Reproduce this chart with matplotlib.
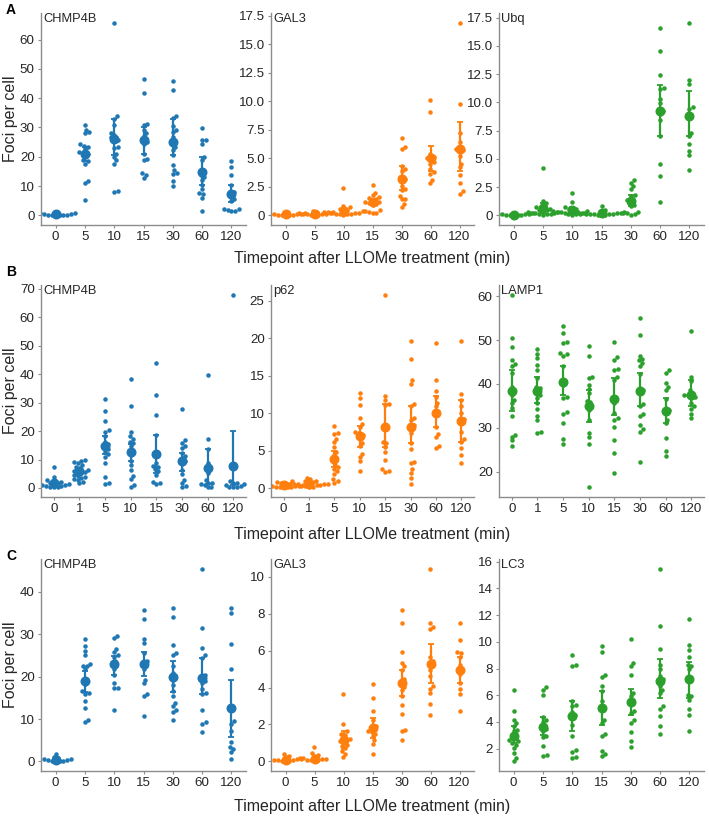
"""
Foci per cell after LLOMe treatment: swarm plots with mean and error bars,
three experiments (A, B, C), three markers each.
"""
import numpy as np
import matplotlib
matplotlib.use("Agg")
import matplotlib.pyplot as plt
from matplotlib.ticker import MultipleLocator, FuncFormatter

plt.rcParams["font.family"] = ["Liberation Sans", "DejaVu Sans"]

# ---------------------------------------------------------------- data
times_7 = ["0", "5", "10", "15", "30", "60", "120"]
times_8 = ["0", "1", "5", "10", "15", "30", "60", "120"]

# Row A
a_chmp4b_vals = [
    [0.0, 0.0, 0.1, 0.0, 0.2, 0.3, 0.5, 0.7, 0.9, 0.1],
    [31, 29.3, 28.3, 28, 24.3, 23.8, 23.4, 22.5, 21.7, 21, 20.9, 20, 18.9, 18.5, 17.7, 11.9, 11.1, 5.4],
    [65.8, 33.9, 32.9, 30.9, 28.2, 27.4, 26.6, 25.9, 25.7, 23.4, 23, 21.1, 20, 18.9, 17.7, 8.3, 8],
    [46.7, 41.9, 31.1, 30.9, 29.1, 28, 27.1, 25.7, 25.1, 24.3, 21.1, 19.4, 18.9, 14.3, 13.7, 12.6],
    [45.8, 42.9, 33.9, 33.1, 30.5, 29.1, 28.5, 26.9, 25.1, 23.4, 22.3, 20.6, 17.1, 15.4, 14.3, 14.1, 11.8, 9.9],
    [29.9, 25.9, 25.7, 24.3, 20, 18.9, 13.7, 13.1, 12, 10.3, 8.9, 7.7, 7.2, 5.9, 1.6],
    [18.5, 16.5, 13.7, 10.5, 8.0, 7.2, 5.7, 4.8, 2.3, 2.0, 1.6, 1.4, 2.2],
]
a_chmp4b_mean = [0.3, 21.1, 26.0, 25.7, 25.1, 14.9, 7.4]
a_chmp4b_lo = [0.1, 18.5, 20.6, 20.9, 20.5, 10.3, 4.5]
a_chmp4b_hi = [0.5, 23.5, 32.8, 30.3, 33.0, 19.8, 10.5]

a_gal3_vals = [
    [0.0, 0.05, 0.1, 0.0, 0.15, 0.1, 0.2, 0.05, 0.3, 0.0, 0.1],
    [0.1, 0.2, 0.3, 0.1, 0.0, 0.05, 0.2, 0.1, 0.3, 0.15, 0.0, 0.35],
    [2.4, 0.8, 0.7, 0.6, 0.5, 0.4, 0.35, 0.3, 0.25, 0.2, 0.2, 0.15, 0.1, 0.1, 0.05, 0.3, 0.1],
    [2.7, 2.0, 1.75, 1.6, 1.5, 1.4, 1.3, 1.2, 1.15, 1.1, 1.0, 0.9, 0.45, 0.35, 0.3, 0.25, 0.2],
    [6.8, 6.0, 5.8, 4.3, 4.1, 3.9, 3.4, 3.2, 3.1, 2.6, 2.3, 2.2, 1.7, 1.45, 1.4, 1.0, 0.75],
    [10.1, 9.1, 5.4, 5.1, 5.0, 4.9, 4.7, 4.5, 4.1, 3.8, 3.6, 3.1, 2.8],
    [16.9, 9.8, 7.2, 6.4, 5.8, 5.7, 5.6, 5.2, 4.5, 4.2, 3.5, 2.8, 2.1, 1.9],
]
a_gal3_mean = [0.1, 0.15, 0.4, 1.2, 3.2, 5.0, 5.8]
a_gal3_lo = [0.05, 0.1, 0.2, 1.0, 2.2, 3.9, 3.9]
a_gal3_hi = [0.15, 0.2, 0.65, 1.45, 4.3, 6.1, 8.2]

a_ubq_vals = [
    [0.0, 0.05, 0.1, 0.0, 0.1, 0.2, 0.05, 0.1, 0.0, 0.15],
    [4.2, 1.3, 1.1, 0.9, 0.7, 0.6, 0.5, 0.4, 0.3, 0.2, 0.1, 0.05, 0.3, 0.15, 0.25, 0.1, 0.45, 0.2],
    [2.0, 1.2, 0.7, 0.6, 0.55, 0.35, 0.3, 0.2, 0.05, 0.1, 0.4, 0.25, 0.3, 0.15, 0.1, 0.35],
    [0.8, 0.5, 0.35, 0.3, 0.2, 0.15, 0.05, 0.1, 0.25, 0.1, 0.05, 0.2, 0.15, 0.3, 0.1, 0.0],
    [3.1, 2.9, 2.6, 2.3, 1.8, 1.7, 1.4, 1.25, 1.1, 0.95, 0.8, 0.3, 0.2, 0.15, 0.05, 0.25],
    [16.6, 14.5, 12.4, 11.3, 11.2, 10.3, 9.9, 9.2, 9.0, 8.4, 7.0, 4.5, 3.5, 1.2],
    [17.05, 12.0, 11.6, 9.6, 9.4, 8.8, 7.3, 7.0, 6.3, 5.7, 5.3, 4.0],
]
a_ubq_mean = [0.07, 0.65, 0.5, 0.25, 1.25, 9.2, 8.8]
a_ubq_lo = [0.03, 0.2, 0.3, 0.15, 0.8, 7.0, 7.0]
a_ubq_hi = [0.1, 1.1, 0.75, 0.4, 1.8, 11.5, 11.0]

# Row B
b_chmp4b_vals = [
    [7.5, 4.0, 2.8, 2.2, 1.9, 1.6, 1.4, 1.1, 0.7, 0.5, 0.2, 1.3, 0.9, 1.8, 0.4, 0.6],
    [9.9, 9.5, 8.7, 8.1, 7.5, 6.9, 6.3, 5.8, 5.2, 4.6, 4.0, 3.4, 2.8, 2.2, 1.6, 5.5, 6.0, 4.3, 3.0, 9.0],
    [31.4, 27.1, 23.6, 20.4, 19.8, 18.1, 16.3, 15.4, 14.6, 13.6, 12.8, 12.0, 11.0, 8.7, 3.8, 1.6, 1.3],
    [38.3, 28.7, 19.8, 18.1, 17.1, 16.3, 15.7, 14.6, 12.6, 11.6, 9.6, 8.1, 6.3, 4.3, 3.1, 1.1, 0.5],
    [43.9, 32.8, 25.7, 18.7, 11.9, 8.7, 7.8, 7.3, 6.6, 5.8, 4.6, 2.0, 1.6, 1.3],
    [27.7, 16.7, 15.7, 14.6, 14.0, 12.2, 11.3, 10.5, 9.3, 8.3, 6.3, 4.9, 2.8, 1.6, 0.7, 0.2],
    [39.8, 17.3, 13.6, 8.7, 6.9, 5.4, 2.8, 1.9, 1.6, 1.3, 1.1, 0.5, 0.2],
    [68.0, 2.4, 1.9, 1.6, 1.3, 1.1, 0.7, 0.5, 0.3, 0.2],
]
b_chmp4b_mean = [1.6, 5.8, 14.6, 12.6, 11.9, 9.3, 6.9, 7.8]
b_chmp4b_lo = [1.0, 4.6, 12.0, 9.3, 5.4, 6.1, 1.5, 1.0]
b_chmp4b_hi = [2.4, 7.0, 18.3, 15.4, 18.7, 12.4, 13.8, 20.1]

b_p62_vals = [
    [0.9, 0.8, 0.7, 0.6, 0.5, 0.4, 0.35, 0.3, 0.25, 0.2, 0.15, 0.1, 0.4, 0.3, 0.6, 0.2, 0.5, 0.1],
    [1.4, 1.2, 1.0, 0.9, 0.8, 0.7, 0.6, 0.55, 0.5, 0.45, 0.4, 0.3, 0.2, 0.15, 0.6, 0.5, 0.3],
    [8.3, 7.4, 7.2, 6.6, 6.1, 5.5, 4.8, 4.4, 4.0, 3.6, 3.1, 2.8, 2.6, 2.3, 1.9, 1.2, 0.9, 0.7],
    [12.7, 12.0, 11.1, 9.4, 8.6, 8.2, 7.5, 7.4, 7.1, 6.9, 6.0, 5.6, 4.6, 4.2, 3.6, 2.3],
    [25.8, 12.3, 11.7, 11.2, 11.1, 8.2, 6.2, 6.0, 5.5, 4.8, 3.7, 2.5, 2.3, 2.2],
    [19.6, 17.2, 14.4, 13.9, 11.2, 10.9, 9.3, 9.1, 8.4, 8.2, 7.4, 6.0, 5.2, 3.5, 3.3, 2.5, 2.0, 1.3, 0.6],
    [19.3, 14.4, 12.9, 12.2, 11.4, 10.9, 10.0, 8.2, 7.2, 6.8, 5.6, 5.3],
    [19.6, 12.6, 11.8, 10.9, 10.0, 9.2, 8.9, 7.5, 6.5, 6.2, 5.3, 4.4, 3.4],
]
b_p62_mean = [0.4, 0.5, 3.9, 6.9, 8.2, 8.2, 10.0, 8.9]
b_p62_lo = [0.3, 0.35, 2.8, 5.5, 5.5, 6.0, 8.2, 6.2]
b_p62_hi = [0.55, 0.7, 4.9, 8.3, 11.2, 10.9, 12.3, 11.7]

b_lamp1_vals = [
    [60.4, 50.5, 48.4, 45.5, 44.6, 44.2, 42.6, 39.4, 38.3, 37.5, 36.4, 35.6, 34.5, 32.7, 28.4, 28.0, 27.1, 25.9],
    [48.0, 46.9, 45.9, 44.4, 43.1, 41.3, 39.4, 39.0, 38.3, 37.5, 36.8, 35.6, 34.3, 32.8, 31.8, 29.1, 28.9],
    [53.3, 51.6, 49.5, 49.3, 47.0, 46.8, 46.4, 44.0, 40.6, 39.8, 37.1, 36.8, 33.5, 33.2, 31.2, 27.5, 26.3],
    [48.6, 46.3, 41.7, 41.3, 39.8, 38.8, 37.9, 36.2, 35.8, 35.0, 34.1, 31.7, 28.8, 27.8, 26.2, 16.4],
    [49.7, 46.1, 45.4, 43.4, 43.1, 41.6, 41.0, 36.8, 35.6, 33.3, 32.2, 31.8, 30.1, 27.1, 24.2, 19.6],
    [55.0, 51.2, 46.3, 45.7, 45.4, 44.8, 44.0, 42.3, 38.7, 38.3, 35.5, 35.0, 33.1, 32.7, 30.7, 29.7, 29.1, 22.1],
    [43.1, 42.6, 40.3, 39.4, 38.7, 36.5, 34.1, 33.7, 31.8, 31.0, 27.6, 24.8, 23.6],
    [52.0, 41.7, 40.6, 38.7, 37.9, 37.5, 37.4, 37.1, 36.8, 35.6, 34.9, 34.2, 33.2, 32.2],
]
b_lamp1_mean = [38.3, 38.3, 40.4, 35.0, 36.6, 38.4, 33.9, 37.5]
b_lamp1_lo = [33.9, 35.6, 37.5, 31.4, 33.0, 34.9, 31.0, 34.9]
b_lamp1_hi = [43.2, 41.5, 44.0, 38.7, 41.3, 42.5, 36.8, 41.0]

# Row C
c_chmp4b_vals = [
    [1.7, 1.0, 0.8, 0.55, 0.4, 0.2, 0.1, 0.0, 0.3, 0.0, 0.5],
    [28.8, 27.2, 26.0, 25.0, 23.0, 22.6, 22.5, 21.7, 18.9, 16.6, 16.2, 14.2, 12.6, 9.7, 9.2, 16.0, 18.2],
    [29.7, 29.2, 26.6, 25.8, 25.0, 24.7, 23.7, 22.9, 22.5, 21.7, 20.4, 18.4, 17.4, 12.2, 17.3],
    [35.7, 33.7, 29.0, 28.0, 25.6, 23.7, 23.3, 22.5, 21.9, 19.3, 18.5, 15.8, 15.4, 10.7],
    [36.2, 34.2, 27.4, 25.5, 25.2, 22.5, 20.9, 20.1, 19.3, 18.1, 16.6, 15.4, 13.8, 13.0, 12.2, 11.6, 9.7],
    [45.5, 31.6, 26.8, 25.2, 24.5, 20.3, 19.7, 18.9, 18.4, 17.1, 16.2, 15.9, 12.1, 9.2, 8.9, 6.9],
    [36.2, 35.0, 27.6, 21.9, 9.5, 8.9, 7.1, 4.5, 3.4, 2.9, 2.1, 0.6],
]
c_chmp4b_mean = [0.3, 18.9, 22.9, 22.9, 19.9, 19.6, 12.5]
c_chmp4b_lo = [0.15, 16.3, 20.4, 20.1, 16.3, 15.8, 5.8]
c_chmp4b_hi = [0.5, 21.3, 24.9, 25.9, 23.7, 24.5, 19.2]

c_gal3_vals = [
    [0.42, 0.3, 0.22, 0.15, 0.1, 0.04, 0.0, 0.05, 0.1, 0.0, 0.12],
    [0.78, 0.45, 0.36, 0.27, 0.18, 0.13, 0.1, 0.05, 0.0, 0.08, 0.2, 0.15],
    [3.66, 2.03, 1.63, 1.45, 1.3, 1.18, 1.09, 1.0, 0.82, 0.72, 0.58, 0.42, 0.22, 1.2, 0.9, 1.5],
    [4.2, 3.44, 2.72, 2.26, 1.94, 1.81, 1.63, 1.5, 1.36, 1.14, 0.94, 0.4, 1.6],
    [8.19, 7.52, 5.94, 5.34, 5.16, 4.98, 4.44, 4.26, 4.04, 3.89, 3.53, 3.08, 2.59, 1.72, 1.63, 1.14],
    [10.45, 7.52, 7.3, 7.16, 5.67, 5.43, 5.29, 4.98, 4.62, 4.11, 3.93, 3.71, 3.12, 2.5],
    [7.48, 6.56, 5.94, 5.85, 5.65, 5.25, 4.98, 4.89, 4.71, 4.26, 3.93, 3.66, 2.72],
]
c_gal3_mean = [0.1, 0.15, 1.18, 1.81, 4.26, 5.29, 4.93]
c_gal3_lo = [0.05, 0.08, 0.69, 1.27, 3.53, 4.26, 4.26]
c_gal3_hi = [0.17, 0.25, 1.63, 2.36, 4.98, 6.34, 5.65]

c_lc3_vals = [
    [6.43, 4.8, 4.13, 3.93, 3.73, 3.43, 3.3, 2.98, 2.63, 2.55, 2.43, 2.3, 2.05, 1.68, 1.3, 1.05],
    [6.6, 6.43, 6.05, 4.38, 4.18, 3.98, 3.63, 3.48, 3.3, 2.98, 2.85, 2.18, 1.55, 1.48],
    [8.98, 8.3, 8.18, 5.55, 5.3, 5.18, 4.73, 4.55, 4.38, 3.8, 2.93, 1.88, 1.73, 1.38, 1.3],
    [9.68, 9.23, 7.55, 7.38, 6.73, 6.3, 5.55, 5.05, 4.13, 3.93, 3.13, 2.98, 1.8, 1.63, 1.48],
    [10.18, 8.43, 8.18, 7.5, 6.18, 5.93, 5.68, 5.43, 4.8, 4.68, 4.13, 3.93, 3.23, 2.55, 2.13],
    [15.48, 11.18, 9.48, 8.3, 7.98, 7.43, 7.23, 7.05, 6.68, 6.43, 6.18, 5.18, 5.0, 4.43, 3.68, 3.13],
    [11.68, 9.73, 9.38, 8.85, 8.3, 8.18, 7.93, 7.18, 6.05, 5.93, 5.68, 5.0, 4.5, 3.35],
]
c_lc3_mean = [2.98, 3.6, 4.43, 5.05, 5.48, 7.05, 7.18]
c_lc3_lo = [2.43, 3.05, 3.3, 3.8, 4.55, 5.8, 5.8]
c_lc3_hi = [3.73, 4.38, 5.55, 6.3, 6.48, 8.68, 8.48]

BLUE, ORANGE, GREEN = "#1f77b4", "#ff7f0e", "#2ca02c"

# (row, col, title, timepoints, values, mean, lo, hi, colour, tick step, decimals)
panels = [
    (0, 0, "CHMP4B", times_7, a_chmp4b_vals, a_chmp4b_mean, a_chmp4b_lo, a_chmp4b_hi, BLUE, 10, 0),
    (0, 1, "GAL3", times_7, a_gal3_vals, a_gal3_mean, a_gal3_lo, a_gal3_hi, ORANGE, 2.5, 1),
    (0, 2, "Ubq", times_7, a_ubq_vals, a_ubq_mean, a_ubq_lo, a_ubq_hi, GREEN, 2.5, 1),
    (1, 0, "CHMP4B", times_8, b_chmp4b_vals, b_chmp4b_mean, b_chmp4b_lo, b_chmp4b_hi, BLUE, 10, 0),
    (1, 1, "p62", times_8, b_p62_vals, b_p62_mean, b_p62_lo, b_p62_hi, ORANGE, 5, 0),
    (1, 2, "LAMP1", times_8, b_lamp1_vals, b_lamp1_mean, b_lamp1_lo, b_lamp1_hi, GREEN, 10, 0),
    (2, 0, "CHMP4B", times_7, c_chmp4b_vals, c_chmp4b_mean, c_chmp4b_lo, c_chmp4b_hi, BLUE, 10, 0),
    (2, 1, "GAL3", times_7, c_gal3_vals, c_gal3_mean, c_gal3_lo, c_gal3_hi, ORANGE, 2, 0),
    (2, 2, "LC3", times_7, c_lc3_vals, c_lc3_mean, c_lc3_lo, c_lc3_hi, GREEN, 2, 0),
]

# ---------------------------------------------------------------- layout
W, H = 709, 818
col_px = [(41, 246), (271, 474), (499, 704)]
row_px = [(13, 225), (285, 497), (559, 771)]
row_letters = ["A", "B", "C"]
xlabel_y = [258, 535, 806]
letter_y = [10, 272, 556]

DOT_PX = 3.9
SPINE = "#8c8c8c"
TEXT = "#262626"


def swarm_x(ax, xpos, vals, spacing):
    """Beeswarm offsets computed in display pixels, returned in data units."""
    vals = np.asarray(vals, dtype=float)
    disp = ax.transData.transform(np.column_stack([np.full(len(vals), xpos), vals]))
    ys = disp[:, 1]
    x0 = disp[0, 0]
    offs = np.zeros(len(vals))
    placed = []
    for i in np.argsort(ys):
        y = ys[i]
        cands = [0.0]
        for px, py in placed:
            dy = y - py
            if abs(dy) < spacing:
                dx = np.sqrt(spacing ** 2 - dy ** 2)
                cands += [px + dx, px - dx]
        for c in sorted(cands, key=abs):
            if all((c - px) ** 2 + (y - py) ** 2 >= spacing ** 2 - 1e-6 for px, py in placed):
                offs[i] = c
                break
        placed.append((offs[i], y))
    back = ax.transData.inverted().transform(np.column_stack([x0 + offs, ys]))
    return back[:, 0]


fig = plt.figure(figsize=(W / 100, H / 100), dpi=100)

for r, c, title, times, vals, mean, lo, hi, color, step, dec in panels:
    x0, x1 = col_px[c]
    y0, y1 = row_px[r]
    ax = fig.add_axes([x0 / W, 1 - y1 / H, (x1 - x0) / W, (y1 - y0) / H])

    allv = np.concatenate([np.asarray(v, float) for v in vals] + [np.asarray(hi), np.asarray(lo)])
    vmin, vmax = allv.min(), allv.max()
    pad = 0.05 * (vmax - vmin)
    ax.set_ylim(vmin - pad, vmax + pad)
    ax.set_xlim(-0.5, len(times) - 0.5)

    for i, v in enumerate(vals):
        xs = swarm_x(ax, i, v, DOT_PX)
        ax.scatter(xs, v, s=10.5, color=color, linewidths=0, zorder=2)

    idx = np.arange(len(times))
    mean = np.asarray(mean)
    ax.errorbar(idx, mean, yerr=[mean - np.asarray(lo), np.asarray(hi) - mean],
                fmt="o", ms=6.2, color=color, elinewidth=1.6, capsize=2.4,
                capthick=1.3, zorder=3)

    ax.set_xticks(idx)
    ax.set_xticklabels(times)
    ax.yaxis.set_major_locator(MultipleLocator(step))
    if dec:
        ax.yaxis.set_major_formatter(FuncFormatter(lambda v, p: "0" if abs(v) < 1e-9 else f"{v:.1f}"))
    else:
        ax.yaxis.set_major_formatter(FuncFormatter(lambda v, p: f"{v:.0f}"))

    for side in ["top", "right"]:
        ax.spines[side].set_visible(False)
    for side in ["left", "bottom"]:
        ax.spines[side].set_color(SPINE)
        ax.spines[side].set_linewidth(1.0)
    ax.tick_params(axis="both", length=2.5, width=0.8, color=SPINE,
                   labelsize=9.6, labelcolor=TEXT, pad=2)

    ax.text(0.01, 1.0, title, transform=ax.transAxes, ha="left", va="top",
            fontsize=9.3, color=TEXT)

for r in range(3):
    y0, y1 = row_px[r]
    fig.text(11 / W, 1 - (y0 + y1) / 2 / H, "Foci per cell", rotation=90,
             ha="center", va="center", fontsize=11.5, color=TEXT)
    fig.text((41 + 704) / 2 / W, 1 - xlabel_y[r] / H,
             "Timepoint after LLOMe treatment (min)", ha="center", va="center",
             fontsize=11.5, color=TEXT)
    fig.text(11 / W, 1 - letter_y[r] / H, row_letters[r], ha="center", va="center",
             fontsize=10, fontweight="bold", color="black")

fig.savefig("out.png", dpi=100)
